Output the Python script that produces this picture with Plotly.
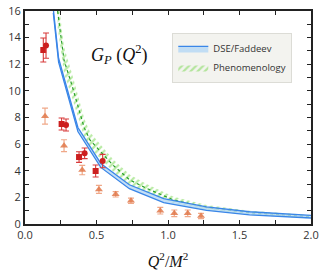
import plotly.graph_objects as go

# --- data ---
red_sq_x = [0.128, 0.256, 0.378, 0.494]
red_sq_y = [13.07, 7.51, 5.03, 3.98]
red_sq_err = [0.9, 0.45, 0.4, 0.45]

red_ci_x = [0.147, 0.287, 0.417, 0.543]
red_ci_y = [13.4, 7.44, 5.31, 4.73]
red_ci_err = [0.95, 0.45, 0.4, 0.5]

tri_x = [0.14, 0.273, 0.40, 0.517, 0.634, 0.741, 0.946, 1.044, 1.138, 1.231]
tri_y = [8.1, 5.88, 4.05, 2.6, 2.23, 1.75, 1.0, 0.8, 0.8, 0.6]
tri_err = [0.6, 0.45, 0.35, 0.3, 0.2, 0.2, 0.25, 0.25, 0.25, 0.2]

dse_x = [0.198, 0.235, 0.37, 0.53, 0.73, 0.97, 1.27, 1.57, 2.0]
dse_lo = [15.85, 12.15, 6.95, 4.25, 2.65, 1.6, 1.02, 0.68, 0.45]
dse_hi = [16.15, 12.45, 7.25, 4.55, 2.95, 1.9, 1.28, 0.92, 0.65]

phe_x = [0.228, 0.273, 0.326, 0.415, 0.455, 0.617, 0.734, 0.85, 1.04, 1.27, 1.57, 2.0]
phe_y = [16.0, 12.3, 10.5, 7.2, 6.3, 4.4, 3.3, 2.68, 1.8, 1.23, 0.85, 0.55]
phe_lo = [14.8, 11.3, 9.6, 6.5, 5.7, 3.95, 2.9, 2.35, 1.55, 1.03, 0.7, 0.42]
phe_hi = [17.2, 13.3, 11.4, 7.9, 6.9, 4.85, 3.7, 3.0, 2.05, 1.43, 1.0, 0.68]

BLUE = "#3a86e8"
GREEN = "#74d64a"
DGREEN = "#2aa02a"
RED = "#cc1f1f"
ORANGE = "#e0784a"

fig = go.Figure()

# Phenomenology band (hatched)
fig.add_trace(go.Scatter(x=phe_x, y=phe_lo, mode="lines",
                         line=dict(width=0, color=GREEN), showlegend=False, hoverinfo="skip"))
fig.add_trace(go.Scatter(x=phe_x, y=phe_hi, mode="lines",
                         line=dict(width=0, color=GREEN), fill="tonexty",
                         fillcolor="rgba(0,0,0,0)",
                         fillpattern=dict(shape="/", fgcolor=GREEN, bgcolor="rgba(255,255,255,0)",
                                          size=5, solidity=0.45),
                         name="Phenomenology"))
fig.add_trace(go.Scatter(x=phe_x, y=phe_y, mode="lines",
                         line=dict(width=1.2, color=DGREEN, dash="dot"),
                         showlegend=False, hoverinfo="skip"))

# DSE/Faddeev band
fig.add_trace(go.Scatter(x=dse_x, y=dse_lo, mode="lines",
                         line=dict(width=1.3, color=BLUE), showlegend=False, hoverinfo="skip"))
fig.add_trace(go.Scatter(x=dse_x, y=dse_hi, mode="lines",
                         line=dict(width=1.3, color=BLUE), fill="tonexty",
                         fillcolor="rgba(180,215,245,0.8)", name="DSE/Faddeev"))

# data points
fig.add_trace(go.Scatter(x=tri_x, y=tri_y, mode="markers",
                         marker=dict(symbol="triangle-up", size=7, color=ORANGE, opacity=0.85),
                         error_y=dict(type="data", array=tri_err, color="#f0a888", thickness=1.2, width=3),
                         showlegend=False))
fig.add_trace(go.Scatter(x=red_sq_x, y=red_sq_y, mode="markers",
                         marker=dict(symbol="square", size=6, color=RED),
                         error_y=dict(type="data", array=red_sq_err, color="#d83a3a", thickness=1.1, width=3),
                         showlegend=False))
fig.add_trace(go.Scatter(x=red_ci_x, y=red_ci_y, mode="markers",
                         marker=dict(symbol="circle", size=6, color=RED),
                         error_y=dict(type="data", array=red_ci_err, color="#d83a3a", thickness=1.1, width=3),
                         showlegend=False))

fig.add_annotation(x=0.332, y=0.797, xref="paper", yref="paper", showarrow=False,
                   xanchor="center", yanchor="middle",
                   text="<i>G</i><sub><i>P</i></sub> (<i>Q</i><sup>2</sup>)",
                   font=dict(family="Liberation Serif", size=18, color="#111"))

axis_common = dict(showline=True, linecolor="#222", linewidth=2, mirror="ticks",
                   ticks="inside", ticklen=4, tickcolor="#222", tickwidth=1.2,
                   showgrid=False, zeroline=False, automargin=False,
                   tickfont=dict(family="Open Sans", size=11, color="#333"))

fig.update_layout(
    width=326, height=270,
    margin=dict(l=25, r=15, t=11, b=46),
    paper_bgcolor="white", plot_bgcolor="white",
    xaxis=dict(range=[0, 2.0], dtick=0.5, tick0=0, tickformat=".1f",
               minor=dict(dtick=0.25, ticks="inside", ticklen=4, tickcolor="#222", tickwidth=1.2),
               title=dict(text="<i>Q</i><sup>2</sup>/<i>M</i><sup>2</sup>",
                          font=dict(family="Liberation Serif", size=16, color="#111"), standoff=16),
               **axis_common),
    yaxis=dict(range=[0, 16], dtick=2, tick0=0,
               minor=dict(dtick=1, ticks="inside", ticklen=4, tickcolor="#222", tickwidth=1.2),
               **axis_common),
    legend=dict(x=0.515, y=0.897, xanchor="left", yanchor="top",
                bgcolor="#f3f3ef", bordercolor="#dcdcd6", borderwidth=1,
                font=dict(family="Open Sans", size=9.5, color="#333"),
                traceorder="reversed", itemwidth=30, tracegroupgap=0),
    showlegend=True,
)

fig.write_html("out.html", config={"displayModeBar": False},
               post_script="document.body.style.margin='0';document.body.style.padding='0';")
